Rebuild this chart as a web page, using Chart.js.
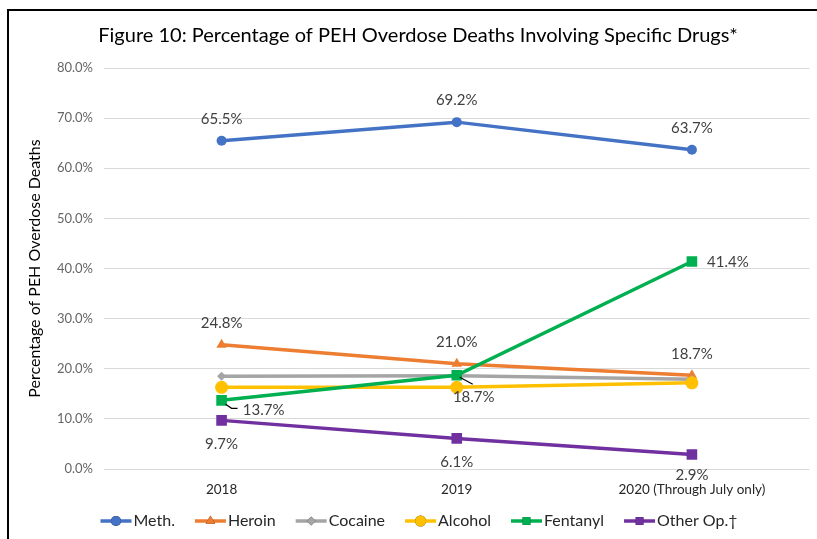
<!DOCTYPE html>
<html>
<head>
<meta charset="utf-8">
<script src="https://cdn.jsdelivr.net/npm/chart.js@4"></script>
<style>
  html, body { margin:0; padding:0; background:#fff; overflow:hidden; }
  #wrap { position:relative; width:817px; height:539px; }
  #frame { position:absolute; left:7px; top:9px; width:830px; height:600px; border:2px solid #000; box-sizing:border-box; }
  canvas { position:absolute; left:0; top:0; }
</style>
</head>
<body>
<div id="wrap">
  <div id="frame"></div>
  <canvas id="c" width="817" height="539"></canvas>
</div>
<script>
// ---- data ----
const categories = ['2018', '2019', '2020 (Through July only)'];
const seriesNames = ['Meth.', 'Heroin', 'Cocaine', 'Alcohol', 'Fentanyl', 'Other Op.\u2020'];
const meth     = [65.5, 69.2, 63.7];
const heroin   = [24.8, 21.0, 18.7];
const cocaine  = [18.5, 18.6, 17.9];
const alcohol  = [16.3, 16.3, 17.2];
const fentanyl = [13.7, 18.7, 41.4];
const otherOp  = [9.7, 6.1, 2.9];
const yTicks   = [0, 10, 20, 30, 40, 50, 60, 70, 80];
const titleText = 'Figure 10: Percentage of PEH Overdose Deaths Involving Specific Drugs*';
const yTitle = 'Percentage of PEH Overdose Deaths';

// ---- style ----
const FONT = 'Lato, "Open Sans", sans-serif';
const colors = ['#4472C4', '#ED7D31', '#A5A5A5', '#FFC000', '#00B050', '#7030A0'];
const shapes = ['circle', 'triangle', 'rectRot', 'circle', 'rect', 'rect'];
const radii  = [5, 6, 4.5, 6.5, 7.5, 7.5];
const values = [meth, heroin, cocaine, alcohol, fentanyl, otherOp];
// label placement per series/point: [dx, dy] offsets of label center from the point, or null
const labelPlace = [
  [[0,-22],[0,-22],[0,-22]],
  [[0,-22],[0,-22],[0,-21]],
  null,
  null,
  [[42,10],[17,22],[36,1]],
  [[0,24],[0,24],[0,21]]
];
const leaders = { '4-0': [[4,4],[10,8],[16,8]], '4-1': [[3,2],[16,9]] };

const datasets = values.map((v, i) => ({
  label: seriesNames[i],
  data: v,
  borderColor: colors[i],
  backgroundColor: colors[i],
  borderWidth: 3.5,
  pointStyle: shapes[i],
  pointRadius: radii[i],
  pointHoverRadius: radii[i],
  pointBorderWidth: 0,
  tension: 0,
  order: values.length - i
}));

const labelPlugin = {
  id: 'customDraw',
  afterDatasetsDraw(chart) {
    const ctx = chart.ctx;
    ctx.save();
    ctx.font = '15px ' + FONT;
    ctx.fillStyle = '#404040';
    ctx.textAlign = 'center';
    ctx.textBaseline = 'middle';
    values.forEach((v, i) => {
      if (!labelPlace[i]) return;
      const meta = chart.getDatasetMeta(i);
      meta.data.forEach((pt, j) => {
        const [dx, dy] = labelPlace[i][j];
        const key = i + '-' + j;
        if (leaders[key]) {
          ctx.strokeStyle = '#000';
          ctx.lineWidth = 1.2;
          ctx.beginPath();
          leaders[key].forEach(([lx, ly], k) => {
            if (k === 0) ctx.moveTo(pt.x + lx, pt.y + ly); else ctx.lineTo(pt.x + lx, pt.y + ly);
          });
          ctx.stroke();
        }
        ctx.fillText(v[j].toFixed(1) + '%', pt.x + dx, pt.y + dy);
      });
    });
    ctx.restore();
  },
  afterDraw(chart) {
    const ctx = chart.ctx;
    ctx.save();
    // title
    ctx.font = '20px ' + FONT;
    ctx.fillStyle = '#000';
    ctx.textAlign = 'center';
    ctx.textBaseline = 'middle';
    ctx.fillText(titleText, 418, 36);
    // legend
    ctx.font = '16px ' + FONT;
    ctx.textBaseline = 'middle';
    const lineW = 31, gap = 2, spacing = 20;
    const widths = seriesNames.map(n => lineW + gap + ctx.measureText(n).width);
    const total = widths.reduce((a, b) => a + b, 0) + spacing * (seriesNames.length - 1);
    let x = 419 - total / 2;
    const y = 521;
    seriesNames.forEach((n, i) => {
      ctx.strokeStyle = colors[i];
      ctx.lineWidth = 3.5;
      ctx.beginPath();
      ctx.moveTo(x, y); ctx.lineTo(x + lineW, y);
      ctx.stroke();
      Chart.helpers.drawPoint(ctx, { pointStyle: shapes[i], radius: Math.min(radii[i], 5.5), borderWidth: 0 }, x + lineW / 2, y);
      ctx.fillStyle = colors[i];
      ctx.fill();
      ctx.fillStyle = '#262626';
      ctx.textAlign = 'left';
      ctx.fillText(n, x + lineW + gap, y);
      x += widths[i] + spacing;
    });
    ctx.restore();
  }
};

new Chart(document.getElementById('c'), {
  type: 'line',
  data: { labels: categories, datasets },
  options: {
    responsive: false,
    animation: false,
    devicePixelRatio: 1,
    layout: { padding: { left: 0, right: 5, top: 68, bottom: 34 } },
    plugins: { legend: { display: false }, title: { display: false }, tooltip: { enabled: false } },
    scales: {
      x: {
        offset: true,
        grid: { display: false, drawTicks: false },
        border: { display: false },
        ticks: { color: '#262626', font: { family: FONT, size: 13.5 }, padding: 13, maxRotation: 0 },
        afterFit: s => { s.height = 36; }
      },
      y: {
        min: 0, max: 80,
        afterBuildTicks: s => { s.ticks = yTicks.map(v => ({ value: v })); },
        grid: { color: '#d9d9d9', lineWidth: 1, drawTicks: false },
        border: { display: false },
        ticks: { color: '#666666', font: { family: FONT, size: 13 }, padding: 11, callback: v => v.toFixed(1) + '%' },
        title: { display: true, text: yTitle, color: '#000', font: { family: FONT, size: 16 }, padding: { top: 25, bottom: 0 } },
        afterFit: s => { s.width = 104; }
      }
    }
  },
  plugins: [labelPlugin]
});
</script>
</body>
</html>
